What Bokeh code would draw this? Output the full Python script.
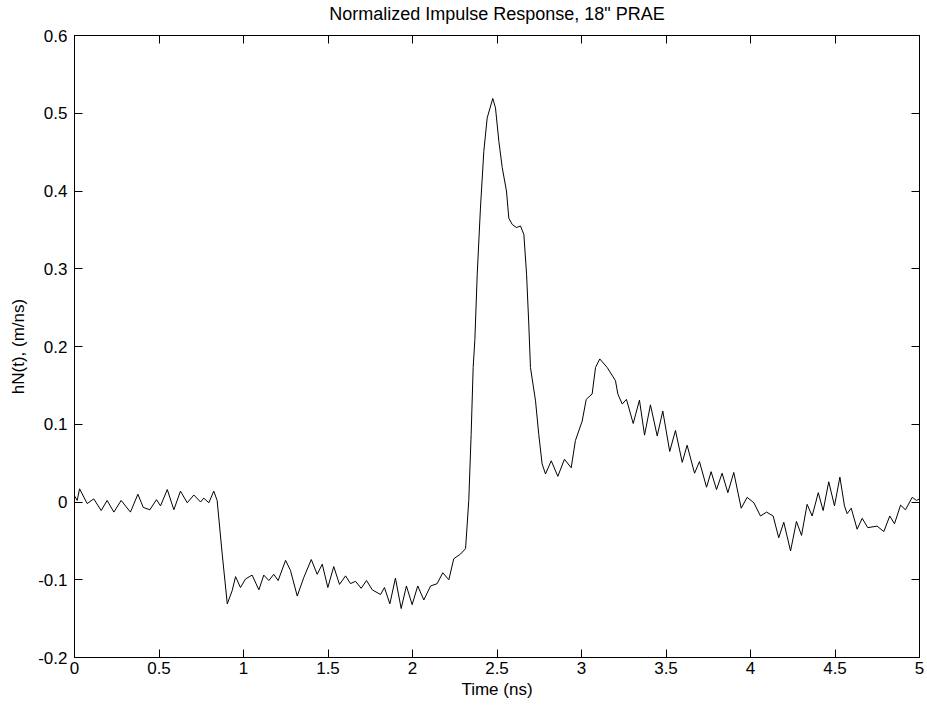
from bokeh.plotting import figure
from bokeh.models import Range1d, LinearAxis, FixedTicker
from bokeh.embed import file_html
from bokeh.resources import INLINE

title_text = 'Normalized Impulse Response, 18" PRAE'
x_label = "Time (ns)"
y_label = "hN(t), (m/ns)"

x_ticks = [0, 0.5, 1, 1.5, 2, 2.5, 3, 3.5, 4, 4.5, 5]
x_tick_labels = ["0", "0.5", "1", "1.5", "2", "2.5", "3", "3.5", "4", "4.5", "5"]
y_ticks = [-0.2, -0.1, 0, 0.1, 0.2, 0.3, 0.4, 0.5, 0.6]
y_tick_labels = ["-0.2", "-0.1", "0", "0.1", "0.2", "0.3", "0.4", "0.5", "0.6"]

time_ns = [
    0.000, 0.016, 0.030, 0.075, 0.114, 0.158, 0.193, 0.233, 0.276, 0.331,
    0.375, 0.407, 0.446, 0.485, 0.509, 0.549, 0.588, 0.627, 0.667, 0.706,
    0.746, 0.765, 0.795, 0.824, 0.844, 0.874, 0.904, 0.933, 0.953, 0.982,
    1.012, 1.051, 1.091, 1.120, 1.150, 1.179, 1.205, 1.249, 1.278, 1.318,
    1.357, 1.401, 1.436, 1.466, 1.499, 1.534, 1.568, 1.604, 1.633, 1.663,
    1.696, 1.728, 1.762, 1.811, 1.834, 1.866, 1.899, 1.933, 1.964, 1.998,
    2.031, 2.067, 2.107, 2.146, 2.179, 2.215, 2.244, 2.284, 2.314, 2.333,
    2.347, 2.359, 2.369, 2.383, 2.402, 2.422, 2.442, 2.475, 2.491, 2.511,
    2.531, 2.556, 2.570, 2.590, 2.615, 2.639, 2.659, 2.675, 2.688, 2.698,
    2.728, 2.747, 2.767, 2.787, 2.821, 2.860, 2.899, 2.939, 2.964, 3.004,
    3.028, 3.063, 3.083, 3.108, 3.152, 3.201, 3.215, 3.241, 3.266, 3.306,
    3.343, 3.373, 3.408, 3.448, 3.481, 3.522, 3.556, 3.596, 3.625, 3.669,
    3.698, 3.740, 3.767, 3.799, 3.832, 3.866, 3.901, 3.945, 3.980, 4.020,
    4.059, 4.095, 4.134, 4.167, 4.197, 4.237, 4.272, 4.302, 4.335, 4.365,
    4.401, 4.430, 4.463, 4.497, 4.529, 4.556, 4.572, 4.596, 4.631, 4.661,
    4.694, 4.749, 4.789, 4.824, 4.852, 4.888, 4.917, 4.957, 4.982, 5.000,
]

h_norm = [
    0.008, 0.002, 0.017, -0.002, 0.004, -0.011, 0.002, -0.013, 0.002, -0.013,
    0.010, -0.007, -0.010, 0.003, -0.005, 0.016, -0.010, 0.014, -0.001, 0.009,
    0.000, 0.005, -0.001, 0.014, 0.002, -0.067, -0.131, -0.114, -0.096, -0.110,
    -0.099, -0.094, -0.113, -0.094, -0.101, -0.093, -0.101, -0.075, -0.088, -0.121,
    -0.097, -0.074, -0.093, -0.080, -0.110, -0.083, -0.106, -0.095, -0.105, -0.102,
    -0.111, -0.101, -0.113, -0.119, -0.110, -0.131, -0.098, -0.137, -0.108, -0.132,
    -0.108, -0.126, -0.108, -0.105, -0.091, -0.100, -0.073, -0.067, -0.060, 0.002,
    0.087, 0.173, 0.209, 0.293, 0.378, 0.451, 0.494, 0.519, 0.507, 0.464,
    0.430, 0.400, 0.365, 0.357, 0.353, 0.355, 0.344, 0.293, 0.229, 0.173,
    0.130, 0.087, 0.049, 0.036, 0.053, 0.033, 0.055, 0.044, 0.079, 0.104,
    0.132, 0.139, 0.173, 0.184, 0.173, 0.156, 0.139, 0.126, 0.132, 0.101,
    0.131, 0.086, 0.125, 0.085, 0.117, 0.065, 0.092, 0.051, 0.073, 0.037,
    0.052, 0.019, 0.039, 0.016, 0.037, 0.012, 0.038, -0.008, 0.006, -0.001,
    -0.018, -0.013, -0.018, -0.046, -0.026, -0.063, -0.025, -0.043, -0.003, -0.018,
    0.012, -0.011, 0.026, -0.005, 0.032, -0.005, -0.015, -0.008, -0.035, -0.021,
    -0.033, -0.031, -0.038, -0.018, -0.028, -0.004, -0.010, 0.006, 0.002, 0.004,
]

FONT = "Liberation Sans"
FS = "17px"

p = figure(
    width=927, height=710,
    x_range=Range1d(0, 5), y_range=Range1d(-0.2, 0.6),
    output_backend="svg", toolbar_location=None,
    min_border_left=74, min_border_right=8, min_border_top=34, min_border_bottom=53,
)
p.background_fill_color = "white"
p.border_fill_color = "white"
p.grid.visible = False
p.outline_line_color = "black"
p.outline_line_width = 1

p.line(time_ns, h_norm, line_color="black", line_width=1)

def style_axis(ax, ticks, labels, show_labels):
    ax.ticker = FixedTicker(ticks=ticks)
    ax.major_tick_in = 8
    ax.major_tick_out = 0
    ax.minor_tick_in = 0
    ax.minor_tick_out = 0
    ax.axis_line_color = "black"
    ax.major_tick_line_color = "black"
    ax.major_label_text_font = FONT
    ax.major_label_text_color = "black"
    ax.major_label_text_font_size = FS
    ax.axis_label_text_font = FONT
    ax.axis_label_text_font_size = FS
    ax.axis_label_text_font_style = "normal"
    ax.axis_label_text_color = "black"
    if show_labels:
        ax.major_label_overrides = {t: l for t, l in zip(ticks, labels)}
    else:
        ax.major_label_overrides = {t: "" for t in ticks}
        ax.major_label_standoff = 0

xa = p.xaxis[0]
style_axis(xa, x_ticks, x_tick_labels, True)
xa.axis_label = x_label
xa.major_label_standoff = 4
xa.axis_label_standoff = 3

ya = p.yaxis[0]
style_axis(ya, y_ticks, y_tick_labels, True)
ya.axis_label = y_label
ya.major_label_standoff = 7
ya.axis_label_standoff = 7

# top frame edge with inward ticks; its axis label carries the chart title
top_axis = LinearAxis()
style_axis(top_axis, x_ticks, x_tick_labels, False)
top_axis.axis_label = title_text
top_axis.axis_label_text_font_size = "18px"
top_axis.axis_label_standoff = 12
p.add_layout(top_axis, "above")

right_axis = LinearAxis()
style_axis(right_axis, y_ticks, y_tick_labels, False)
p.add_layout(right_axis, "right")

open("out.html", "w").write(file_html(p, INLINE))
